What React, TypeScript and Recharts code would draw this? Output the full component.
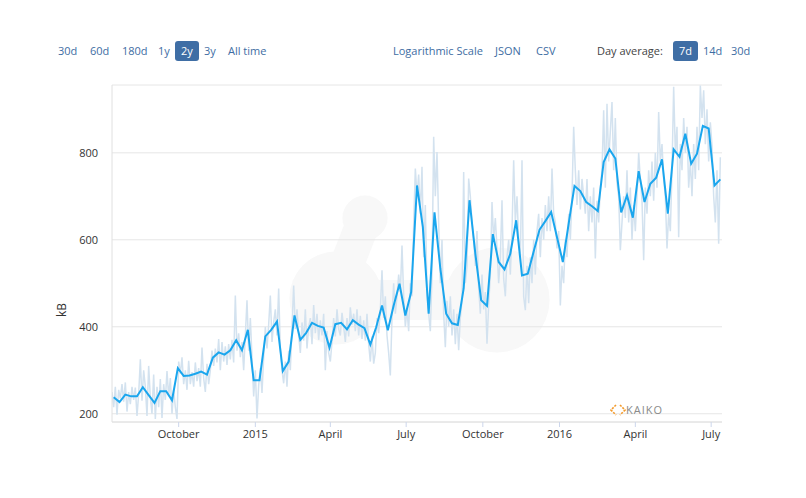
import React from 'react';
import { LineChart, Line, XAxis, YAxis, CartesianGrid } from 'recharts';

// ---- Data ----
const START_DATE = '2014-07-13';
const END_DAY = 732;
const WEEKLY_FIRST_DAY = 2;
const WEEKLY_STEP = 7;
const DAILY_STEP = 2;

// 7-day average block size (kB)
const weeklyAvg: number[] = [
  238, 227, 244, 240, 240, 261, 243, 225, 252, 252,
  231, 305, 287, 288, 292, 297, 290, 329, 341, 336,
  346, 369, 346, 393, 277, 277, 378, 393, 412, 298,
  320, 426, 370, 386, 409, 402, 398, 352, 406, 409,
  394, 415, 405, 397, 359, 399, 449, 392, 449, 499,
  426, 480, 725, 629, 430, 663, 534, 430, 408, 404,
  488, 691, 568, 461, 448, 613, 549, 532, 568, 645,
  518, 522, 573, 623, 643, 664, 606, 549, 637, 724,
  712, 687, 677, 666, 779, 808, 787, 663, 702, 651,
  758, 687, 729, 743, 785, 660, 808, 791, 844, 775,
  798, 862, 856, 725, 739,
];

// daily block size (kB), sampled every two days
const dailyValues: number[] = [
  250, 215, 262, 198, 255, 235, 268,
  228, 272, 205, 250, 222, 262, 232,
  260, 195, 245, 325, 230, 300, 262,
  195, 310, 238, 200, 290, 188, 262,
  215, 280, 190, 268, 232, 298, 240,
  282, 200, 255, 215, 188, 320, 292,
  330, 268, 300, 255, 322, 268, 296,
  262, 318, 275, 305, 262, 352, 282,
  250, 315, 268, 300, 345, 310, 350,
  318, 372, 300, 365, 320, 355, 312,
  360, 325, 370, 318, 472, 345, 385,
  330, 365, 300, 380, 461, 345, 420,
  330, 240, 300, 189, 265, 305, 248,
  330, 400, 350, 405, 472, 365, 410,
  440, 380, 488, 350, 300, 270, 320,
  262, 345, 300, 400, 495, 395, 440,
  380, 340, 410, 368, 440, 350, 400,
  420, 360, 450, 385, 430, 370, 415,
  380, 430, 300, 390, 340, 320, 365,
  420, 378, 440, 395, 380, 432, 400,
  365, 420, 378, 445, 405, 430, 390,
  440, 380, 425, 372, 415, 368, 430,
  360, 320, 378, 315, 340, 420, 385,
  440, 530, 420, 470, 380, 340, 288,
  420, 500, 430, 470, 520, 480, 587,
  470, 400, 440, 390, 500, 470, 633,
  764, 700, 750, 660, 768, 560, 680,
  480, 430, 390, 520, 837, 700, 802,
  640, 500, 600, 430, 353, 460, 400,
  470, 380, 440, 360, 430, 346, 420,
  460, 756, 500, 540, 741, 700, 640,
  600, 540, 620, 490, 430, 520, 440,
  480, 361, 450, 520, 687, 600, 650,
  580, 500, 560, 691, 510, 470, 560,
  600, 520, 620, 783, 640, 700, 600,
  560, 783, 470, 438, 540, 454, 560,
  500, 600, 520, 620, 660, 560, 650,
  600, 680, 620, 700, 620, 764, 660,
  640, 580, 620, 449, 540, 500, 600,
  560, 660, 600, 700, 860, 760, 680,
  760, 670, 740, 700, 660, 740, 620,
  700, 640, 720, 557, 690, 640, 720,
  760, 898, 720, 913, 780, 850, 917,
  760, 880, 730, 700, 576, 640, 700,
  650, 760, 640, 720, 600, 680, 620,
  700, 800, 740, 690, 553, 720, 660,
  760, 700, 780, 690, 800, 720, 894,
  780, 820, 740, 700, 580, 660, 620,
  760, 952, 800, 860, 606, 820, 760,
  880, 800, 860, 720, 780, 700, 820,
  740, 860, 760, 955, 880, 944, 820,
  900, 780, 870, 817, 700, 640, 760,
  591, 790,
];

const xTickDates = ['2014-10-01', '2015-01-01', '2015-04-01', '2015-07-01', '2015-10-01', '2016-01-01', '2016-04-01', '2016-07-01'];
const xTickLabels = ['October', '2015', 'April', 'July', 'October', '2016', 'April', 'July'];
const yTicks = [200, 400, 600, 800];
const yDomain: [number, number] = [181, 956];

const rangeButtons = ['30d', '60d', '180d', '1y', '2y', '3y', 'All time'];
const rangeSelected = '2y';
const exportLinks = ['Logarithmic Scale', 'JSON', 'CSV'];
const avgButtons = ['7d', '14d', '30d'];
const avgSelected = '7d';

// ---- Helpers ----
const dayOf = (d: string) => Math.round((Date.parse(d) - Date.parse(START_DATE)) / 86400000);
const xTicks = xTickDates.map(dayOf);
const tickLabelMap: Record<number, string> = {};
xTicks.forEach((t, i) => { tickLabelMap[t] = xTickLabels[i]; });

const weeklyData = weeklyAvg.map((v, i) => ({ day: WEEKLY_FIRST_DAY + i * WEEKLY_STEP, value: v }));
const dailyData = dailyValues.map((v, i) => ({ day: i * DAILY_STEP, value: v }));

const FONT = '"Open Sans", "DejaVu Sans", sans-serif';
const LINK = '#3e6da3';

const btnStyle = (sel: boolean, left: number): React.CSSProperties => ({
  position: 'absolute',
  left,
  top: 41,
  height: 20,
  lineHeight: '20px',
  padding: sel ? '0 6px' : '0',
  borderRadius: 3,
  background: sel ? '#3f6ea5' : 'transparent',
  color: sel ? '#fff' : LINK,
  fontSize: 11,
  whiteSpace: 'nowrap',
});

const rangeLefts = [58, 90, 122, 158, 175, 204, 228];
const linkLefts = [393, 495, 536];
const avgLefts = [673, 703, 731];

export default function App() {
  return (
    <div style={{ position: 'absolute', left: 0, top: 0, width: 806, height: 498, background: '#fff', fontFamily: FONT, overflow: 'hidden' }}>
      {/* watermark */}
      <svg width={806} height={498} style={{ position: 'absolute', left: 0, top: 0 }}>
        <g fill="#f8f8f8" stroke="#f8f8f8">
          <line x1={365} y1={218} x2={335} y2={295} strokeWidth={34} />
          <line x1={335} y1={300} x2={495} y2={300} strokeWidth={40} />
          <circle cx={365} cy={218} r={22} />
          <circle cx={336} cy={298} r={46} />
          <circle cx={497} cy={300} r={52} />
        </g>
      </svg>

      <div style={{ position: 'absolute', left: 0, top: 0 }}>
        <LineChart width={806} height={498} margin={{ top: 85, right: 84, bottom: 46, left: 52 }}>
          <CartesianGrid vertical={false} stroke="#e6e6e6" />
          <XAxis
            type="number"
            dataKey="day"
            domain={[0, END_DAY]}
            ticks={xTicks}
            tickFormatter={(v: number) => tickLabelMap[v] ?? ''}
            height={30}
            axisLine={{ stroke: '#e0e0e0' }}
            tickLine={{ stroke: '#ccd6eb' }}
            tickSize={5}
            tickMargin={3}
            tick={{ fill: '#333', fontSize: 11, fontFamily: FONT }}
            allowDataOverflow
          />
          <YAxis
            type="number"
            domain={yDomain}
            ticks={yTicks}
            width={60}
            axisLine={{ stroke: '#e0e0e0' }}
            tickLine={false}
            tickMargin={8}
            tick={{ fill: '#333', fontSize: 11, fontFamily: FONT }}
            allowDataOverflow
          />
          <Line data={dailyData} dataKey="value" type="linear" stroke="#d3e2ef" strokeWidth={1.5} dot={false} activeDot={false} isAnimationActive={false} />
          <Line data={weeklyData} dataKey="value" type="linear" stroke="#1aa6ee" strokeWidth={2} dot={false} activeDot={false} isAnimationActive={false} />
        </LineChart>
      </div>

      {/* y axis title */}
      <div style={{ position: 'absolute', left: 52, top: 302, width: 20, height: 16, fontSize: 12, color: '#333', transform: 'rotate(-90deg)', textAlign: 'center', lineHeight: '16px' }}>kB</div>

      {/* top controls */}
      {rangeButtons.map((b, i) => (
        <span key={'r' + i} style={btnStyle(b === rangeSelected, rangeLefts[i])}>{b}</span>
      ))}
      {exportLinks.map((b, i) => (
        <span key={'e' + i} style={btnStyle(false, linkLefts[i])}>{b}</span>
      ))}
      <span style={{ ...btnStyle(false, 597), color: '#444' }}>Day average:</span>
      {avgButtons.map((b, i) => (
        <span key={'a' + i} style={btnStyle(b === avgSelected, avgLefts[i])}>{b}</span>
      ))}

      {/* KAIKO mark */}
      <svg width={16} height={12} style={{ position: 'absolute', left: 610, top: 404 }}>
        <g fill="none" stroke="#f39a2b" strokeWidth={1.6} strokeDasharray="2.2 1.2">
          <polyline points="6,1 1,6 6,11" />
          <polyline points="10,1 15,6 10,11" />
        </g>
      </svg>
      <div style={{ position: 'absolute', left: 626, top: 402, fontSize: 11, letterSpacing: 1, color: '#8a8a8a', lineHeight: '16px' }}>KAIKO</div>
    </div>
  );
}
